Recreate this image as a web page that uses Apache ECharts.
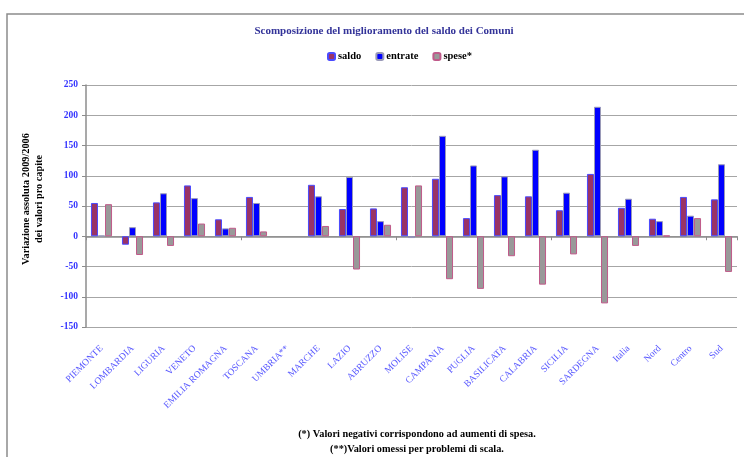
<!DOCTYPE html>
<html><head><meta charset="utf-8">
<script src="https://cdn.jsdelivr.net/npm/echarts@6/dist/echarts.min.js"></script>
<style>html,body{margin:0;padding:0;background:#fff}#c{width:744px;height:457px}</style>
</head><body><div id="c"></div>
<script>
var categories = ['PIEMONTE','LOMBARDIA','LIGURIA','VENETO','EMILIA ROMAGNA','TOSCANA','UMBRIA**','MARCHE','LAZIO','ABRUZZO','MOLISE','CAMPANIA','PUGLIA','BASILICATA','CALABRIA','SICILIA','SARDEGNA','Italia','Nord','Centro','Sud'];
var saldo   = [55, -14, 56, 84, 28, 65, null, 85, 45, 46, 81, 95, 30, 68, 66, 43, 103, 47, 29, 65, 61];
var entrate = [1, 15, 71, 63, 13, 55, null, 66, 98, 25, -3, 166, 117, 99, 143, 72, 214, 62, 25, 34, 119];
var spese   = [53, -31, -16, 21, 14, 8, null, 17, -55, 19, 84, -71, -87, -33, -80, -30, -111, -16, 1, 30, -59];
var yTicks = {min: -150, max: 250, interval: 50};

var serif = '"Liberation Serif","DejaVu Serif",serif';
var chart = echarts.init(document.getElementById('c'));
chart.setOption({
  animation: false,
  graphic: [
    {type:'rect', shape:{x:7,y:14,width:760,height:460}, style:{fill:'none', stroke:'#8c8c8c', lineWidth:1.5}},
    {type:'text', x:384, y:26, style:{text:'Scomposizione del miglioramento del saldo dei Comuni', fill:'#333399', font:'bold 11px '+serif, textAlign:'center'}},
    {type:'text', x:417, y:429, style:{text:'(*) Valori negativi corrispondono ad aumenti di spesa.', fill:'#000', font:'bold 10.3px '+serif, textAlign:'center'}},
    {type:'text', x:417, y:444, style:{text:'(**)Valori omessi per problemi di scala.', fill:'#000', font:'bold 10.3px '+serif, textAlign:'center'}},
    {type:'text', x:33, y:199, rotation:Math.PI/2, style:{text:'Variazione assoluta 2009/2006\ndei valori pro capite', fill:'#000', font:'bold 10.3px '+serif, textAlign:'center', textVerticalAlign:'middle', lineHeight:13}}
  ],
  legend: {
    top: 46, left: 322, itemWidth: 7, itemHeight: 7, itemGap: 14,
    textStyle: {fontFamily: serif, fontWeight: 'bold', fontSize: 10.5, color: '#000', padding:[0,0,0,-2]},
    data: ['saldo','entrate','spese*']
  },
  grid: {left: 86, top: 85, right: 7, bottom: 130},
  xAxis: [
    {type:'category', data: categories, axisLine:{onZero:true, lineStyle:{color:'#8c8c8c', width:1.5}},
     axisTick:{show:true, length:4, lineStyle:{color:'#8c8c8c'}}, axisLabel:{show:false}, splitLine:{show:false}},
    {type:'category', data: categories, position:'bottom', axisLine:{show:false, onZero:false}, axisTick:{show:false},
     axisLabel:{rotate:45, margin:20, interval:0, color:'#5555ff', fontFamily: serif, fontSize:9.5}}
  ],
  yAxis: {
    type:'value', min: yTicks.min, max: yTicks.max, interval: yTicks.interval,
    axisLine:{show:true, lineStyle:{color:'#8c8c8c', width:1.5}},
    axisTick:{show:true, length:4, lineStyle:{color:'#8c8c8c'}},
    axisLabel:{color:'#3333ff', fontWeight:'bold', fontFamily: serif, fontSize:9.5, margin:8},
    splitLine:{lineStyle:{color:'#a6a6a6', width:1}}
  },
  series: [
    {name:'saldo', type:'bar', data:saldo, xAxisIndex:0, barGap:'0%', barCategoryGap:'32%',
     itemStyle:{color:'#993366', borderColor:'#4a4aff', borderWidth:1}},
    {name:'entrate', type:'bar', data:entrate, xAxisIndex:0,
     itemStyle:{color:'#0000ff', borderColor:'#9a9ab8', borderWidth:1}},
    {name:'spese*', type:'bar', data:spese, xAxisIndex:0,
     itemStyle:{color:'#999999', borderColor:'#c05a8a', borderWidth:1}}
  ]
});
</script>
</body></html>
